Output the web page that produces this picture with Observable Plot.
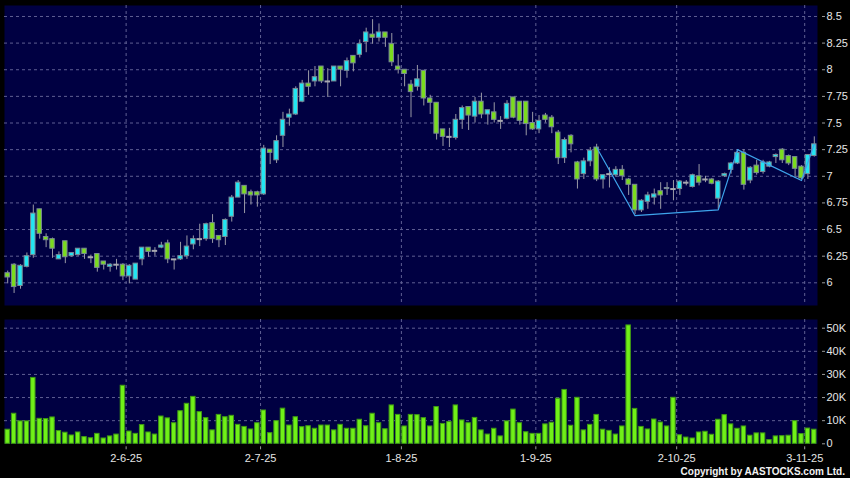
<!DOCTYPE html>
<html><head><meta charset="utf-8">
<script src="https://cdn.jsdelivr.net/npm/d3@7"></script>
<script src="https://cdn.jsdelivr.net/npm/@observablehq/plot@0.6"></script>
<style>
html,body{margin:0;padding:0;background:#000;}
#wrap{position:relative;width:850px;height:478px;background:#000;overflow:hidden;font-family:"Liberation Sans",Arial,sans-serif;}
#top{position:absolute;left:0;top:0;}
#bot{position:absolute;left:0;top:310px;}
#copy{position:absolute;right:5px;top:466px;color:#f2f2f2;font:bold 10px "Liberation Sans",Arial,sans-serif;white-space:nowrap;}
</style></head><body>
<div id="wrap"><div id="top"></div><div id="bot"></div><div id="copy">Copyright by AASTOCKS.com Ltd.</div></div>
<script>
const dates = [
"2025-05-07","2025-05-08","2025-05-09","2025-05-12","2025-05-13","2025-05-14","2025-05-15","2025-05-16","2025-05-19","2025-05-20","2025-05-21","2025-05-22","2025-05-23","2025-05-26","2025-05-27","2025-05-28","2025-05-29","2025-05-30",
"2025-06-02","2025-06-03","2025-06-04","2025-06-05","2025-06-06","2025-06-09","2025-06-10","2025-06-11","2025-06-12","2025-06-13","2025-06-16","2025-06-17","2025-06-18","2025-06-19","2025-06-20","2025-06-23","2025-06-24","2025-06-25","2025-06-26","2025-06-27","2025-06-30",
"2025-07-02","2025-07-03","2025-07-04","2025-07-07","2025-07-08","2025-07-09","2025-07-10","2025-07-11","2025-07-14","2025-07-15","2025-07-16","2025-07-17","2025-07-18","2025-07-21","2025-07-22","2025-07-23","2025-07-24","2025-07-25","2025-07-28","2025-07-29","2025-07-30","2025-07-31",
"2025-08-01","2025-08-04","2025-08-05","2025-08-06","2025-08-07","2025-08-08","2025-08-11","2025-08-12","2025-08-13","2025-08-14","2025-08-15","2025-08-18","2025-08-19","2025-08-20","2025-08-21","2025-08-22","2025-08-25","2025-08-26","2025-08-27","2025-08-28","2025-08-29",
"2025-09-01","2025-09-02","2025-09-03","2025-09-04","2025-09-05","2025-09-08","2025-09-09","2025-09-10","2025-09-11","2025-09-12","2025-09-15","2025-09-16","2025-09-17","2025-09-18","2025-09-19","2025-09-22","2025-09-23","2025-09-24","2025-09-25","2025-09-26","2025-09-29","2025-09-30",
"2025-10-02","2025-10-03","2025-10-06","2025-10-08","2025-10-09","2025-10-10","2025-10-13","2025-10-14","2025-10-15","2025-10-16","2025-10-17","2025-10-20","2025-10-21","2025-10-22","2025-10-23","2025-10-24","2025-10-27","2025-10-28","2025-10-30","2025-10-31",
"2025-11-03","2025-11-04","2025-11-05"];

const open = [
6.09,6.17,5.97,6.15,6.26,6.69,6.43,6.41,6.22,6.39,
6.25,6.26,6.32,6.24,6.27,6.20,6.15,6.17,6.17,6.06,
6.03,6.22,6.33,6.30,6.33,6.37,6.22,6.22,6.25,6.36,
6.41,6.41,6.56,6.44,6.43,6.62,6.80,6.91,6.85,6.85,
6.83,7.25,7.15,7.38,7.55,7.58,7.70,7.87,7.89,8.03,
7.89,7.89,8.03,7.99,8.13,8.14,8.26,8.33,8.30,8.35,
8.24,8.03,8.00,7.86,7.84,7.99,7.73,7.69,7.44,7.37,
7.36,7.53,7.65,7.56,7.70,7.58,7.60,7.52,7.54,7.74,
7.70,7.70,7.50,7.44,7.57,7.55,7.41,7.17,7.38,7.13,
7.02,7.14,7.27,6.97,7.02,7.01,7.06,6.97,6.92,6.68,
6.76,6.80,6.86,6.88,6.88,6.88,6.94,6.90,7.00,6.97,
6.97,6.79,7.00,7.06,7.12,7.22,6.96,7.10,7.04,7.09,
7.18,7.25,7.19,7.18,7.09,7.02,7.19];
const high = [
6.11,6.18,6.17,6.28,6.73,6.69,6.46,6.42,6.29,6.39,
6.28,6.32,6.32,6.26,6.27,6.20,6.18,6.22,6.18,6.17,
6.18,6.33,6.33,6.33,6.38,6.40,6.22,6.38,6.44,6.44,
6.55,6.56,6.64,6.44,6.60,6.82,6.96,6.91,6.87,6.86,
7.29,7.25,7.38,7.60,7.63,7.84,7.90,7.99,8.03,8.03,
8.01,8.03,8.03,8.11,8.13,8.28,8.39,8.47,8.43,8.35,
8.34,8.14,8.00,7.90,8.04,7.99,7.76,7.69,7.44,7.45,
7.58,7.66,7.65,7.74,7.78,7.62,7.69,7.56,7.71,7.74,
7.70,7.70,7.60,7.57,7.59,7.57,7.43,7.36,7.39,7.14,
7.17,7.27,7.30,7.01,7.08,7.09,7.10,6.98,6.92,6.78,
6.85,6.88,6.94,6.94,6.96,6.96,6.96,7.02,7.11,7.00,
6.98,6.96,7.03,7.13,7.25,7.25,7.09,7.15,7.15,7.14,
7.21,7.26,7.20,7.18,7.10,7.20,7.37];
const low = [
5.99,5.90,5.94,6.14,6.23,6.41,6.33,6.23,6.22,6.18,
6.24,6.25,6.22,6.18,6.10,6.12,6.10,6.12,6.02,5.99,
6.03,6.16,6.24,6.25,6.32,6.18,6.12,6.21,6.22,6.31,
6.34,6.39,6.37,6.33,6.35,6.57,6.80,6.65,6.73,6.71,
6.82,7.11,7.12,7.27,7.47,7.57,7.69,7.76,7.84,7.87,
7.74,7.89,7.84,7.92,7.98,8.11,8.16,8.24,8.26,8.21,
8.03,7.96,7.84,7.55,7.80,7.66,7.58,7.34,7.28,7.27,
7.34,7.44,7.43,7.50,7.54,7.48,7.50,7.44,7.53,7.54,
7.48,7.38,7.43,7.40,7.50,7.40,7.11,7.12,7.22,6.88,
6.97,7.09,6.95,6.88,6.89,6.99,6.96,6.82,6.64,6.66,
6.69,6.73,6.69,6.82,6.77,6.82,6.91,6.89,6.91,6.94,
6.92,6.69,6.99,7.02,7.11,6.87,6.93,7.01,7.02,7.08,
7.12,7.12,7.10,6.98,6.97,6.97,7.18];
const close = [
6.05,5.96,6.16,6.25,6.65,6.46,6.40,6.32,6.26,6.24,
6.28,6.32,6.27,6.24,6.14,6.17,6.17,6.17,6.06,6.16,
6.18,6.33,6.29,6.30,6.35,6.22,6.22,6.25,6.34,6.41,
6.41,6.55,6.41,6.40,6.59,6.80,6.94,6.83,6.82,6.82,
7.26,7.22,7.33,7.53,7.58,7.82,7.87,7.84,7.93,7.89,
7.89,8.03,8.00,8.08,8.06,8.24,8.35,8.30,8.35,8.30,
8.07,8.00,7.96,7.79,7.91,7.73,7.69,7.40,7.37,7.37,
7.53,7.64,7.57,7.70,7.58,7.62,7.53,7.52,7.68,7.55,
7.52,7.49,7.44,7.52,7.53,7.46,7.17,7.34,7.30,6.97,
7.14,7.24,6.97,7.01,7.02,7.06,7.00,6.92,6.68,6.77,
6.82,6.83,6.82,6.89,6.88,6.95,6.94,7.01,6.94,6.97,
6.93,6.95,7.02,7.12,7.22,6.92,7.08,7.03,7.13,7.13,
7.20,7.15,7.12,7.07,6.98,7.20,7.30];
const volume = [
6100,13000,9700,9700,28500,10800,10700,11400,5500,4800,
3600,4900,2900,2400,4300,2300,3200,4000,25100,5300,
4300,8100,4900,4000,11800,11000,8900,14100,17300,20300,
13700,11100,5800,12500,11500,12100,8200,7300,6200,8900,
14400,4600,9800,15200,7900,11500,7200,7600,6500,7900,
7900,5800,8200,6500,6500,10400,7600,13000,8900,6300,
16600,12500,7500,12500,12400,11100,7500,15900,8600,9400,
16600,10100,8900,11200,5800,4000,6500,3200,9700,14800,
8900,5000,4300,4300,8400,9100,19500,23300,7800,19900,
5800,8200,12500,6100,5600,4000,7500,51200,15100,7300,
6200,10500,9200,7500,19900,3700,2700,2300,4900,5200,
3900,10400,12400,8400,6500,7500,3500,4500,4500,1600,
3200,3300,3500,9800,4200,6600,6100];

const zigDates  = ["2025-09-15","2025-09-23","2025-10-14","2025-10-17","2025-11-03","2025-11-05"];
const zigPrices = [7.27, 6.63, 6.685, 7.25, 6.96, 7.30];

const priceTicks = [6, 6.25, 6.5, 6.75, 7, 7.25, 7.5, 7.75, 8, 8.25, 8.5];
const volTicks = [0, 10000, 20000, 30000, 40000, 50000];
const monthTicks = ["2025-06-02","2025-07-02","2025-08-01","2025-09-01","2025-10-02","2025-11-03"];
const monthLabels = ["2-6-25","2-7-25","1-8-25","1-9-25","2-10-25","3-11-25"];

const rows = dates.map((d, i) => ({date: d, open: open[i], high: high[i], low: low[i], close: close[i], volume: volume[i]}));
const zig = zigDates.map((d, i) => ({date: d, price: zigPrices[i]}));
const labelOf = Object.fromEntries(monthTicks.map((d, i) => [d, monthLabels[i]]));

const NAVY = "#000042", GRID = "#5f5f93", UP = "#22e6f2", DOWN = "#7bdc1e";
const font = '"Liberation Sans", Arial, sans-serif';
const xOpts = {type: "band", domain: dates, paddingInner: 0.15, paddingOuter: 0.075, round: false, axis: null, label: null};
const style = {background: "transparent", fontFamily: font, fontSize: "11px", color: "#e6e6e6", overflow: "visible"};

const topChart = Plot.plot({
  width: 850, height: 310,
  marginTop: 5, marginBottom: 5, marginLeft: 4, marginRight: 33,
  style,
  x: xOpts,
  y: {domain: [5.787, 8.603], axis: null, label: null},
  marks: [
    Plot.frame({fill: NAVY, stroke: "none"}),
    Plot.ruleY(priceTicks, {stroke: GRID, strokeDasharray: "3,3"}),
    Plot.ruleX(monthTicks, {dx: 3.2, stroke: GRID, strokeDasharray: "3,3"}),
    Plot.ruleX(rows, {x: "date", y1: "low", y2: "high", stroke: "#9a9aa6"}),
    Plot.barY(rows.filter(d => d.close > d.open), {x: "date", y1: "open", y2: "close", fill: UP, stroke: "#7a8a96", strokeWidth: 1, insetLeft: 0.5, insetRight: 0.5}),
    Plot.barY(rows.filter(d => d.close < d.open), {x: "date", y1: "open", y2: "close", fill: DOWN, stroke: "#7a8a96", strokeWidth: 1, insetLeft: 0.5, insetRight: 0.5}),
    Plot.tickY(rows.filter(d => d.close === d.open), {x: "date", y: "close", stroke: "#a8a8b0", strokeWidth: 2}),
    Plot.line(zig, {x: "date", y: "price", stroke: "#3ea4ec", strokeWidth: 1.2}),
    Plot.axisY(priceTicks, {anchor: "right", label: null, tickFormat: d => String(d), tickSize: 3, tickPadding: 2, dx: 4, stroke: "#9a9a9a", fill: "#e6e6e6", fontSize: 11})
  ]
});

const botChart = Plot.plot({
  width: 850, height: 168,
  marginTop: 9, marginBottom: 34.7, marginLeft: 4, marginRight: 33,
  style,
  x: xOpts,
  y: {domain: [0, 53760], axis: null, label: null},
  marks: [
    Plot.frame({fill: NAVY, stroke: "none"}),
    Plot.ruleY(volTicks.filter(v => v > 0), {stroke: GRID, strokeDasharray: "3,3"}),
    Plot.ruleX(monthTicks, {dx: 3.2, stroke: GRID, strokeDasharray: "3,3"}),
    Plot.barY(rows, {x: "date", y: "volume", fill: "#70f018", stroke: "#3f9a14", strokeWidth: 1, insetLeft: 0.5, insetRight: 0.5}),
    Plot.axisY(volTicks, {anchor: "right", label: null, tickFormat: v => v === 0 ? "0" : (v / 1000) + "K", tickSize: 3, tickPadding: 2, dx: 4, stroke: "#9a9a9a", fill: "#e6e6e6", fontSize: 11}),
    Plot.axisX(monthTicks, {anchor: "bottom", label: null, tickFormat: d => labelOf[d], tickSize: 3, tickPadding: 4, dx: 3.2, dy: 3, stroke: "#9a9a9a", fill: "#e6e6e6", fontSize: 11})
  ]
});

document.getElementById("top").appendChild(topChart);
document.getElementById("bot").appendChild(botChart);
</script>
</body></html>
